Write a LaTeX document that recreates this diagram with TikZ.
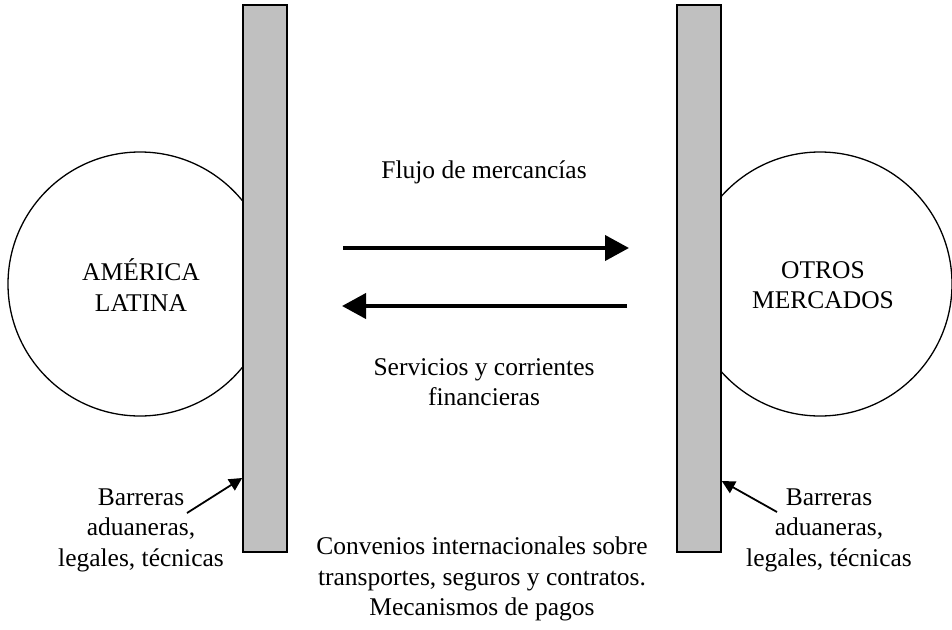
\documentclass[tikz,border=0pt]{standalone}
\usepackage{fontspec}
\setmainfont{Liberation Serif}
\usetikzlibrary{arrows.meta}
\definecolor{bargray}{HTML}{C0C0C0}
\tikzset{
  market/.style={draw=black, line width=1.3pt, circle, minimum size=264pt, inner sep=0pt},
  barrier/.style={draw=black, fill=bargray, line width=1.6pt, minimum width=44pt, minimum height=547pt, inner sep=0pt},
  label/.style={align=center, inner sep=0pt, font=\fontsize{25.5}{30.5}\selectfont},
  flow/.style={line width=4pt, -{Triangle[length=24pt,width=25pt]}},
  pointer/.style={line width=1.8pt, -{Triangle[length=13pt,width=13pt]}}
}
\begin{document}
\begin{tikzpicture}[x=1pt, y=-1pt]
  \useasboundingbox (0,0) rectangle (952,629);
  % the two markets
  \node[market] (al) at (140,284) {};
  \node[market] (om) at (820,284) {};
  % customs barriers in front of each market
  \node[barrier] (barL) at (265,278.5) {};
  \node[barrier] (barR) at (699,278.5) {};
  % market names
  \node[label] (alname) at (141,285) {AMÉRICA\\LATINA};
  \node[label] (omname) at (823,285) {OTROS\\MERCADOS};
  % flows between the markets
  \coordinate (f1s) at (343,248);
  \coordinate (f1e) at (629,248);
  \coordinate (f2s) at (627,306);
  \coordinate (f2e) at (342,306);
  \draw[flow] (f1s) -- (f1e);
  \draw[flow] (f2s) -- (f2e);
  \node[label] (goods) at (484,172) {Flujo de mercancías};
  \node[label] (services) at (484,382) {Servicios y corrientes\\financieras};
  % barrier notes
  \node[label] (noteL) at (141,530) {Barreras\\aduaneras,\\legales, técnicas};
  \node[label] (noteR) at (829,530) {Barreras\\aduaneras,\\legales, técnicas};
  \coordinate (pLs) at (187,513);
  \coordinate (pLe) at (barL.west |- 0,478);
  \coordinate (pRs) at (777,512);
  \coordinate (pRe) at (barR.east |- 0,481);
  \draw[pointer] (pLs) -- (pLe);
  \draw[pointer] (pRs) -- (pRe);
  % agreements
  \node[label] (agree) at (482,579) {Convenios internacionales sobre\\transportes, seguros y contratos.\\Mecanismos de pagos};
\end{tikzpicture}
\end{document}
